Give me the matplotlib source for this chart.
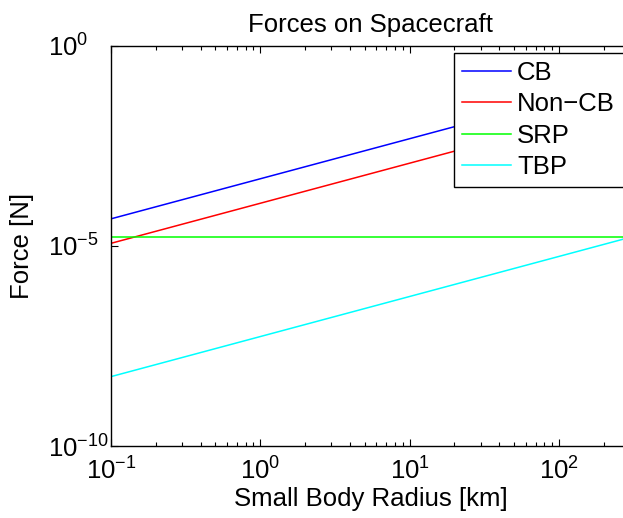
import matplotlib
matplotlib.use('Agg')
import matplotlib.pyplot as plt
from matplotlib.ticker import FixedLocator, NullLocator, LogLocator

plt.rcParams['font.family'] = ['Liberation Sans', 'DejaVu Sans']
plt.rcParams['mathtext.fontset'] = 'custom'
plt.rcParams['mathtext.rm'] = 'Liberation Sans'
plt.rcParams['mathtext.it'] = 'Liberation Sans:italic'
plt.rcParams['mathtext.bf'] = 'Liberation Sans:bold'

# radius of small body [km]
radius = [0.1, 1, 10, 100, 300]
# forces [N]
cb = [4.7e-5, 4.7e-4, 4.7e-3, 4.7e-2, 1.41e-1]
non_cb = [1.15e-5, 1.15e-4, 1.15e-3, 1.15e-2, 3.45e-2]
srp = [1.7e-5, 1.7e-5, 1.7e-5, 1.7e-5, 1.7e-5]
tbp = [5.4e-9, 5.4e-8, 5.4e-7, 5.4e-6, 1.62e-5]

names = ['CB', 'Non\u2212CB', 'SRP', 'TBP']
colors = ['#0000ff', '#ff0000', '#00ff00', '#00ffff']

fs = 18.5
fig = plt.figure(figsize=(6.23, 5.18), dpi=100)
ax = fig.add_axes([111 / 623, 1 - 446 / 518, (630 - 111) / 623, 400.5 / 518])

for y, name, c in zip([cb, non_cb, srp, tbp], names, colors):
    ax.plot(radius, y, color=c, lw=1.1, label=name)

ax.set_xscale('log')
ax.set_yscale('log')
ax.set_xlim(0.1, 300)
ax.set_ylim(1e-10, 1)

ax.yaxis.set_major_locator(FixedLocator([1e-10, 1e-5, 1]))
ax.yaxis.set_minor_locator(NullLocator())
ax.xaxis.set_major_locator(LogLocator(base=10))
ax.xaxis.set_minor_locator(LogLocator(base=10, subs=range(2, 10)))

ax.tick_params(which='both', direction='in', top=True, right=False,
               labelsize=fs, width=0.8)
ax.tick_params(which='major', length=5)
ax.tick_params(axis='x', which='major', pad=8)
ax.tick_params(axis='y', which='major', pad=45.4)
ax.tick_params(which='minor', length=3)
for lab in ax.get_yticklabels():
    lab.set_horizontalalignment('left')
ax.spines['right'].set_visible(False)
for s in ['left', 'bottom', 'top']:
    ax.spines[s].set_linewidth(1.0)

ax.set_title('Forces on Spacecraft', fontsize=fs, pad=10)
ax.set_xlabel('Small Body Radius [km]', fontsize=fs, labelpad=2)
ax.set_ylabel('Force [N]', fontsize=fs)
ax.yaxis.set_label_coords(-0.148, 0.5)

leg = ax.legend(loc='upper left',
                bbox_to_anchor=(454 / 623, 0, (634 - 454) / 623, 1 - 53 / 518),
                bbox_transform=fig.transFigure, mode='expand', fontsize=fs,
                fancybox=False, framealpha=1, edgecolor='black',
                borderaxespad=0, handlelength=1.9, handletextpad=0.25,
                labelspacing=0.29, borderpad=0.3)
leg.get_frame().set_linewidth(1.0)

fig.savefig('out.png', dpi=100)
